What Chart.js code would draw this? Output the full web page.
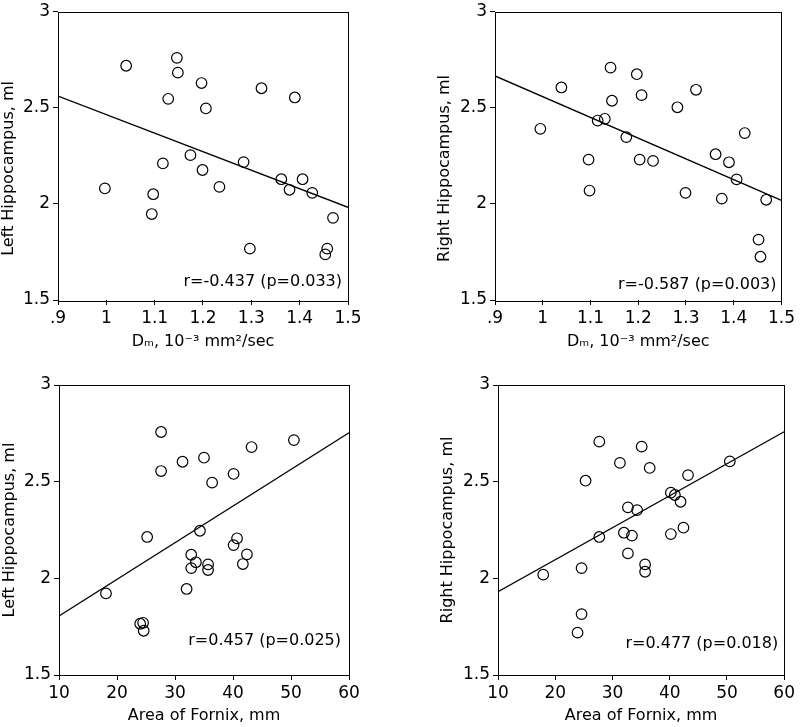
<!DOCTYPE html>
<html>
<head>
<meta charset="utf-8">
<script src="https://cdn.jsdelivr.net/npm/chart.js@4/dist/chart.umd.min.js"></script>
<style>
  html, body { margin: 0; padding: 0; background: #fff; }
  #wrap { position: relative; width: 800px; height: 727px; }
  canvas { position: absolute; }
</style>
</head>
<body>
<div id="wrap">
  <canvas id="dmLeft" width="400" height="360" style="left:0;top:0"></canvas>
  <canvas id="dmRight" width="400" height="360" style="left:400px;top:0"></canvas>
  <canvas id="fxLeft" width="400" height="367" style="left:0;top:360px"></canvas>
  <canvas id="fxRight" width="400" height="367" style="left:400px;top:360px"></canvas>
</div>
<script>
// values
const dmLeftX = [0.997, 1.041, 1.146, 1.148, 1.197, 1.128, 1.206, 1.321, 1.390, 1.174, 1.117, 1.199,
  1.284, 1.234, 1.097, 1.094, 1.362, 1.406, 1.379, 1.426, 1.297, 1.469, 1.457, 1.453];
const dmLeftY = [2.080, 2.718, 2.759, 2.682, 2.628, 2.546, 2.496, 2.601, 2.553, 2.253, 2.210, 2.176,
  2.217, 2.088, 2.050, 1.947, 2.128, 2.128, 2.073, 2.057, 1.767, 1.927, 1.767, 1.737];

const dmRightX = [1.142, 1.039, 1.145, 1.115, 1.130, 0.995, 1.175, 1.096, 1.098, 1.197, 1.207, 1.203,
  1.321, 1.282, 1.423, 1.231, 1.362, 1.390, 1.406, 1.299, 1.375, 1.468, 1.452, 1.456];
const dmRightY = [2.708, 2.605, 2.536, 2.433, 2.442, 2.390, 2.347, 2.230, 2.069, 2.674, 2.565, 2.230,
  2.593, 2.502, 2.368, 2.223, 2.258, 2.216, 2.127, 2.057, 2.027, 2.021, 1.814, 1.725];

const fxLeftX = [27.6, 27.6, 31.3, 35.0, 25.2, 34.3, 32.8, 33.6, 32.8, 32.0, 18.1, 24.0,
  24.5, 24.6, 43.2, 50.5, 40.1, 36.4, 40.7, 40.1, 42.4, 41.7, 35.7, 35.7];
const fxLeftY = [2.757, 2.555, 2.603, 2.624, 2.214, 2.246, 2.122, 2.083, 2.053, 1.945, 1.922, 1.765,
  1.770, 1.729, 2.679, 2.715, 2.540, 2.495, 2.207, 2.172, 2.124, 2.074, 2.072, 2.043];

const fxRightX = [27.7, 31.3, 25.3, 32.7, 34.3, 27.7, 32.0, 33.4, 32.7, 17.9, 24.6, 24.6,
  23.9, 35.1, 36.5, 43.2, 50.5, 40.2, 40.9, 41.9, 42.4, 40.2, 35.7, 35.7];
const fxRightY = [2.707, 2.597, 2.505, 2.367, 2.353, 2.214, 2.236, 2.221, 2.129, 2.019, 2.053, 1.815,
  1.719, 2.681, 2.571, 2.534, 2.605, 2.443, 2.431, 2.396, 2.262, 2.229, 2.072, 2.034];

// regression line end points (x, y)
const fitDmLeft = [[0.9, 2.560], [1.5, 1.982]];
const fitDmRight = [[0.9, 2.665], [1.5, 2.018]];
const fitFxLeft = [[10, 1.805], [60, 2.753]];
const fitFxRight = [[10, 1.931], [60, 2.758]];

const yTicks = [1.5, 2, 2.5, 3];
const yTickLabels = ['1.5', '2', '2.5', '3'];
const dmTicks = [0.9, 1.0, 1.1, 1.2, 1.3, 1.4, 1.5];
const dmTickLabels = ['.9', '1', '1.1', '1.2', '1.3', '1.4', '1.5'];
const fxTicks = [10, 20, 30, 40, 50, 60];
const fxTickLabels = ['10', '20', '30', '40', '50', '60'];

const FONT = 'DejaVu Sans';

// box round the plot + the r/p note in the corner
const framePlugin = {
  id: 'frame',
  afterDraw(chart, args, opts) {
    const { ctx, chartArea: a } = chart;
    ctx.save();
    ctx.strokeStyle = '#000';
    ctx.lineWidth = 1;
    ctx.strokeRect(Math.round(a.left) + 0.5, Math.round(a.top) + 0.5,
      Math.round(a.right - a.left), Math.round(a.bottom - a.top));
    if (opts.text) {
      ctx.fillStyle = '#000';
      ctx.font = '16px "' + FONT + '"';
      ctx.textAlign = 'right';
      ctx.textBaseline = 'middle';
      ctx.fillText(opts.text, a.right - opts.dx, a.bottom - opts.dy);
    }
    ctx.restore();
  }
};

function makePanel(id, p) {
  const pts = p.xs.map((x, i) => ({ x: x, y: p.ys[i] }));
  const line = p.fit.map(d => ({ x: d[0], y: d[1] }));
  const tickFont = { family: FONT, size: 17, lineHeight: 1 };
  const titleFont = { family: FONT, size: 16, lineHeight: 1 };
  new Chart(document.getElementById(id), {
    type: 'scatter',
    data: {
      datasets: [
        {
          data: pts,
          pointStyle: 'circle',
          pointRadius: 5.3,
          pointBorderWidth: 1.2,
          pointBorderColor: '#000',
          pointBackgroundColor: 'rgba(0,0,0,0)',
          showLine: false
        },
        {
          data: line,
          showLine: true,
          borderColor: '#000',
          borderWidth: 1.3,
          pointRadius: 0
        }
      ]
    },
    options: {
      responsive: false,
      animation: false,
      layout: { padding: p.pad },
      plugins: {
        legend: { display: false },
        tooltip: { enabled: false },
        frame: { text: p.rText, dx: p.rdx, dy: p.rdy }
      },
      scales: {
        x: {
          type: 'linear',
          min: p.xTicks[0],
          max: p.xTicks[p.xTicks.length - 1],
          afterBuildTicks: s => { s.ticks = p.xTicks.map(v => ({ value: v })); },
          afterFit: s => { s.height = p.xH; },
          grid: { drawOnChartArea: false, drawTicks: true, tickLength: 5, color: '#000' },
          border: { display: false },
          ticks: {
            color: '#000', font: tickFont, padding: 5, maxRotation: 0, autoSkip: false,
            callback: (v, i) => p.xTickLabels[i]
          },
          title: { display: true, text: p.xTitle, color: '#000', font: titleFont, padding: 0 }
        },
        y: {
          type: 'linear',
          min: 1.5,
          max: 3,
          afterBuildTicks: s => { s.ticks = yTicks.map(v => ({ value: v })); },
          afterFit: s => { s.width = p.yW; },
          grid: { drawOnChartArea: false, drawTicks: true, tickLength: 5, color: '#000' },
          border: { display: false },
          ticks: {
            color: '#000', font: tickFont, padding: 3, autoSkip: false,
            callback: (v, i) => yTickLabels[i]
          },
          title: { display: true, text: p.yTitle, color: '#000', font: titleFont, padding: 0 }
        }
      }
    },
    plugins: [framePlugin]
  });
}

makePanel('dmLeft', {
  xs: dmLeftX, ys: dmLeftY, fit: fitDmLeft,
  xTicks: dmTicks, xTickLabels: dmTickLabels,
  xTitle: 'Dₘ, 10⁻³ mm²/sec', yTitle: 'Left Hippocampus, ml     ',
  pad: { left: 1, right: 52, top: 9, bottom: 10 }, yW: 57, xH: 50,
  rText: 'r=-0.437 (p=0.033)', rdx: 6, rdy: 18
});
makePanel('dmRight', {
  xs: dmRightX, ys: dmRightY, fit: fitDmRight,
  xTicks: dmTicks, xTickLabels: dmTickLabels,
  xTitle: 'Dₘ, 10⁻³ mm²/sec', yTitle: 'Right Hippocampus, ml     ',
  pad: { left: 37, right: 15, top: 9, bottom: 10 }, yW: 58, xH: 50,
  rText: 'r=-0.587 (p=0.003)', rdx: 5, rdy: 15
});
makePanel('fxLeft', {
  xs: fxLeftX, ys: fxLeftY, fit: fitFxLeft,
  xTicks: fxTicks, xTickLabels: fxTickLabels,
  xTitle: 'Area of Fornix, mm', yTitle: 'Left Hippocampus, ml',
  pad: { left: 2, right: 51, top: 25, bottom: 3 }, yW: 57, xH: 49,
  rText: 'r=0.457 (p=0.025)', rdx: 8, rdy: 34
});
makePanel('fxRight', {
  xs: fxRightX, ys: fxRightY, fit: fitFxRight,
  xTicks: fxTicks, xTickLabels: fxTickLabels,
  xTitle: 'Area of Fornix, mm', yTitle: 'Right Hippocampus, ml',
  pad: { left: 40, right: 12, top: 25, bottom: 3 }, yW: 58, xH: 49,
  rText: 'r=0.477 (p=0.018)', rdx: 6, rdy: 31
});
</script>
</body>
</html>
